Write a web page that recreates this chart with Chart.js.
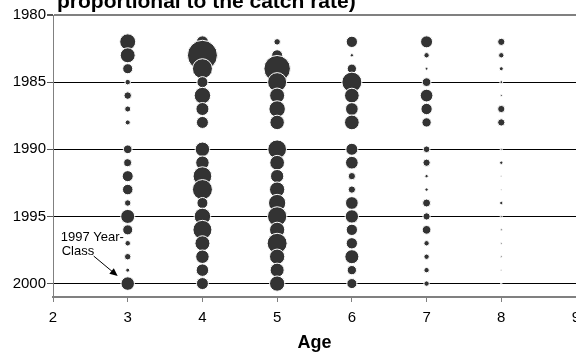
<!DOCTYPE html>
<html>
<head>
<meta charset="utf-8">
<script src="https://cdn.jsdelivr.net/npm/chart.js@4.4.1/dist/chart.umd.min.js"></script>
<style>
  html, body { margin: 0; padding: 0; background: #fff; }
  #wrap { width: 576px; height: 352px; }
</style>
</head>
<body>
<div id="wrap"><canvas id="chart" width="576" height="352"></canvas></div>
<script>
// years sampled (rows) and ages (columns); null = no sample that year
const years = [1982, 1983, 1984, 1985, 1986, 1987, 1988, 1989, 1990, 1991,
               1992, 1993, 1994, 1995, 1996, 1997, 1998, 1999, 2000];
const ages = [3, 4, 5, 6, 7, 8];

// relative catch rate per age, by year
const catchAge3 = [16, 14, 6.3, 1.9, 3.5, 2.3, 1.6, null, 4.7, 4.0, 7.6, 6.9, 2.6, 12.3, 6.3, 1.9, 2.6, 1.0, 11.4];
const catchAge4 = [9, 56.3, 25, 7.6, 17, 10.6, 9, null, 13.1, 11.4, 21.9, 25, 7.6, 17, 22.6, 14.1, 11.4, 9.8, 9];
const catchAge5 = [2.6, 7.6, 43.9, 22.6, 14.1, 17, 13.1, null, 21.9, 13.5, 11.1, 14.6, 18.7, 23.3, 14.6, 25, 14.6, 12.3, 14.6];
const catchAge6 = [8, 0.7, 5.4, 25, 13.5, 10.1, 13.5, null, 9, 10.1, 3.3, 3.3, 10.1, 11.1, 8, 8, 12.3, 5.4, 6.3];
const catchAge7 = [9, 1.8, 0.5, 4.7, 10.1, 8, 5.4, null, 2.8, 3.3, 0.7, 0.7, 4, 3.3, 4.7, 1.8, 1.8, 1.8, 1.8];
const catchAge8 = [3.3, 1.8, 1, 0.5, 0.25, 3.3, 3.3, null, 0.25, 0.7, 0.1, 0.1, 0.7, 0.25, 0.25, 0.18, 0.18, 0.1, 0.1];

const xTicks = [2, 3, 4, 5, 6, 7, 8, 9];
const yTicks = [1980, 1985, 1990, 1995, 2000];

const titleText = 'proportional to the catch rate)';
const noteLines = ['1997 Year-', 'Class'];

const catchByAge = [catchAge3, catchAge4, catchAge5, catchAge6, catchAge7, catchAge8];

// bubble area ~ catch rate
const rScale = 2;

// bubbles may overflow the plot area; don't shrink the layout for them
Chart.BubbleController.prototype.getMaxOverflow = () => 0;

const datasets = ages.map((age, i) => ({
    label: 'Age ' + age,
    data: years
        .map((yr, j) => ({ yr, v: catchByAge[i][j] }))
        .filter(p => p.v !== null)
        .map(p => ({ x: age, y: p.yr, r: rScale * Math.sqrt(p.v) })),
    backgroundColor: '#333333',
    borderColor: '#ffffff',
    borderWidth: 1,
    clip: false
}));

// title (cut off at the top) and the year-class note with arrow
const extrasPlugin = {
    id: 'extras',
    afterDraw(chart) {
        const { ctx, chartArea, scales } = chart;
        ctx.save();
        ctx.fillStyle = '#000';
        ctx.font = "bold 21px 'Liberation Sans', Arial, sans-serif";
        ctx.textBaseline = 'alphabetic';
        ctx.textAlign = 'left';
        ctx.fillText(titleText, chartArea.left + 4, 8);

        const tipX = scales.x.getPixelForValue(3) - 10;
        const tipY = scales.y.getPixelForValue(2000) - 7.5;
        ctx.font = "13px 'Liberation Sans', Arial, sans-serif";
        ctx.textBaseline = 'middle';
        ctx.fillText(noteLines[0], tipX - 57, tipY - 39);
        ctx.fillText(noteLines[1], tipX - 56, tipY - 25);

        const tailX = tipX - 24, tailY = tipY - 20;
        const ang = Math.atan2(tipY - tailY, tipX - tailX);
        ctx.strokeStyle = '#000';
        ctx.lineWidth = 1;
        ctx.beginPath();
        ctx.moveTo(tailX, tailY);
        ctx.lineTo(tipX - 5 * Math.cos(ang), tipY - 5 * Math.sin(ang));
        ctx.stroke();
        ctx.beginPath();
        ctx.moveTo(tipX, tipY);
        ctx.lineTo(tipX - 8 * Math.cos(ang) + 3.5 * Math.sin(ang), tipY - 8 * Math.sin(ang) - 3.5 * Math.cos(ang));
        ctx.lineTo(tipX - 8 * Math.cos(ang) - 3.5 * Math.sin(ang), tipY - 8 * Math.sin(ang) + 3.5 * Math.cos(ang));
        ctx.closePath();
        ctx.fill();
        ctx.restore();
    }
};

Chart.defaults.font.family = "'Liberation Sans', Arial, sans-serif";
Chart.defaults.color = '#000';

new Chart(document.getElementById('chart'), {
    type: 'bubble',
    data: { datasets },
    options: {
        responsive: false,
        animation: false,
        events: [],
        layout: { padding: { top: 15, right: 0, bottom: 0, left: 0 } },
        plugins: {
            legend: { display: false },
            tooltip: { enabled: false },
            title: { display: false }
        },
        scales: {
            x: {
                type: 'linear',
                min: xTicks[0],
                max: xTicks[xTicks.length - 1],
                afterBuildTicks: s => { s.ticks = xTicks.map(v => ({ value: v })); },
                afterFit: s => { s.height = 55; s.paddingLeft = 0; s.paddingRight = 0; },
                ticks: { font: { size: 15 }, padding: 7, callback: v => String(v), maxRotation: 0, autoSkip: false },
                grid: { drawOnChartArea: false, drawTicks: true, tickLength: 5, tickColor: '#808080' },
                border: { color: '#808080', width: 2 },
                title: {
                    display: true,
                    text: 'Age',
                    font: { size: 18, weight: 'bold', lineHeight: 1 },
                    padding: { top: 0, bottom: 0 }
                }
            },
            y: {
                type: 'linear',
                reverse: true,
                min: 1980,
                max: 2001,
                afterBuildTicks: s => { s.ticks = yTicks.map(v => ({ value: v })); },
                afterFit: s => { s.width = 53; s.paddingTop = 0; s.paddingBottom = 0; },
                ticks: { font: { size: 15 }, padding: 1, callback: v => String(v), autoSkip: false },
                grid: {
                    color: c => (c.tick && c.tick.value === 1980) ? '#808080' : '#000000',
                    lineWidth: c => (c.tick && c.tick.value === 1980) ? 2 : 1,
                    drawTicks: true,
                    tickLength: 6,
                    tickColor: '#555555'
                },
                border: { color: '#808080', width: 1 }
            }
        }
    },
    plugins: [extrasPlugin]
});
</script>
</body>
</html>
